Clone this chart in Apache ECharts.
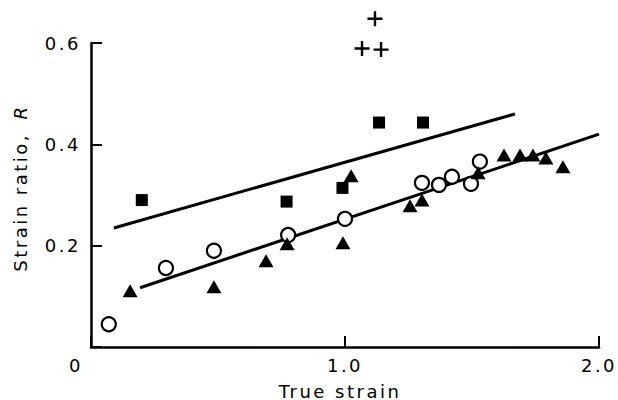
<!DOCTYPE html>
<html><head><meta charset="utf-8">
<script src="https://cdn.jsdelivr.net/npm/echarts@6/dist/echarts.min.js"></script>
<style>
html,body{margin:0;padding:0;background:#fff}
#c{width:618px;height:400px}
#c text{letter-spacing:2.5px}
</style>
</head><body><div id="c"></div>
<script>
// ---- data ----
const xTicks = [0, 1.0, 2.0];
const yTicks = [0, 0.2, 0.4, 0.6];
const xTitle = 'True strain';
const yTitle = 'Strain ratio, ';
const yTitleSymbol = 'R';

const plusX = [1.118, 1.067, 1.142];
const plusY = [0.648, 0.589, 0.587];

const squareX = [0.20, 0.77, 0.99, 1.134, 1.307];
const squareY = [0.290, 0.287, 0.314, 0.443, 0.443];

const circleX = [0.07, 0.295, 0.484, 0.776, 1.00, 1.303, 1.37, 1.421, 1.496, 1.531];
const circleY = [0.045, 0.156, 0.190, 0.221, 0.253, 0.324, 0.320, 0.336, 0.322, 0.366];

const triX = [0.154, 0.484, 0.689, 0.772, 0.992, 1.024, 1.256, 1.303, 1.524, 1.626, 1.689, 1.740, 1.791, 1.858];
const triY = [0.111, 0.119, 0.170, 0.204, 0.206, 0.338, 0.279, 0.290, 0.344, 0.379, 0.379, 0.379, 0.373, 0.356];

const upperLineX = [0.09, 1.669];
const upperLineY = [0.235, 0.460];
const lowerLineX = [0.193, 2.0];
const lowerLineY = [0.117, 0.420];

// ---- build ----
const zip = (xs, ys) => xs.map((x, i) => [x, ys[i]]);
const FONT = 'DejaVu Sans';
const FS = 18;
const chart = echarts.init(document.getElementById('c'), null, {renderer: 'svg'});
const plusPath = 'path://M-1,-0.16L1,-0.16L1,0.16L-1,0.16Z M-0.16,-1L0.16,-1L0.16,1L-0.16,1Z';

chart.setOption({
  animation: false,
  backgroundColor: '#fff',
  grid: {left: 91, right: 19, top: 43, bottom: 53, containLabel: false, outerBoundsMode: 'none'},
  xAxis: {
    type: 'value', min: xTicks[0], max: xTicks[xTicks.length - 1], interval: 1,
    splitLine: {show: false},
    axisLine: {show: true, onZero: false, lineStyle: {color: '#000', width: 2.5}},
    axisTick: {show: true, inside: true, length: 11, lineStyle: {color: '#000', width: 2}},
    axisLabel: {
      show: true, margin: 9, color: '#000', fontFamily: FONT, fontSize: FS,
      showMinLabel: true, showMaxLabel: true,
      formatter: v => v === 0 ? '{z|0}' : v.toFixed(1),
      rich: {z: {padding: [0, 30, 0, 0], fontFamily: FONT, fontSize: FS, color: '#000'}}
    },
    name: xTitle, nameLocation: 'middle', nameGap: 35,
    nameTextStyle: {color: '#000', fontFamily: FONT, fontSize: FS, padding: [0, 10, 0, 0]}
  },
  yAxis: {
    type: 'value', min: yTicks[0], max: yTicks[yTicks.length - 1], interval: 0.2,
    splitLine: {show: false},
    axisLine: {show: true, onZero: false, lineStyle: {color: '#000', width: 2.5}},
    axisTick: {show: true, inside: true, length: 11, lineStyle: {color: '#000', width: 2}},
    axisLabel: {
      show: true, margin: 10, color: '#000', fontFamily: FONT, fontSize: FS,
      formatter: v => v === 0 ? '' : v.toFixed(1)
    },
    name: '{a|' + yTitle + '}{i|' + yTitleSymbol + '}', nameLocation: 'middle', nameGap: 62,
    nameTextStyle: {
      color: '#000', fontFamily: FONT, fontSize: FS, padding: [0, 0, 0, 30],
      rich: {
        a: {fontFamily: FONT, fontSize: FS, color: '#000'},
        i: {fontStyle: 'italic', fontFamily: FONT, fontSize: FS, color: '#000',
            padding: [0, 0, 0, 24]}
      }
    }
  },
  series: [
    {type: 'line', data: zip(upperLineX, upperLineY), symbol: 'none',
     lineStyle: {color: '#000', width: 3}, z: 1},
    {type: 'line', data: zip(lowerLineX, lowerLineY), symbol: 'none',
     lineStyle: {color: '#000', width: 3}, z: 1},
    {type: 'scatter', data: zip(squareX, squareY), symbol: 'rect', symbolSize: 12,
     itemStyle: {color: '#000', opacity: 1}, z: 2},
    {type: 'scatter', data: zip(circleX, circleY), symbol: 'circle', symbolSize: 14,
     itemStyle: {color: '#fff', borderColor: '#000', borderWidth: 2.2, opacity: 1}, z: 3},
    {type: 'scatter', data: zip(triX, triY), symbol: 'triangle', symbolSize: [15, 13],
     itemStyle: {color: '#000', opacity: 1}, z: 4},
    {type: 'scatter', data: zip(plusX, plusY), symbol: plusPath, symbolSize: 15,
     itemStyle: {color: '#000', opacity: 1}, clip: false, z: 4}
  ]
});
</script>
</body></html>
